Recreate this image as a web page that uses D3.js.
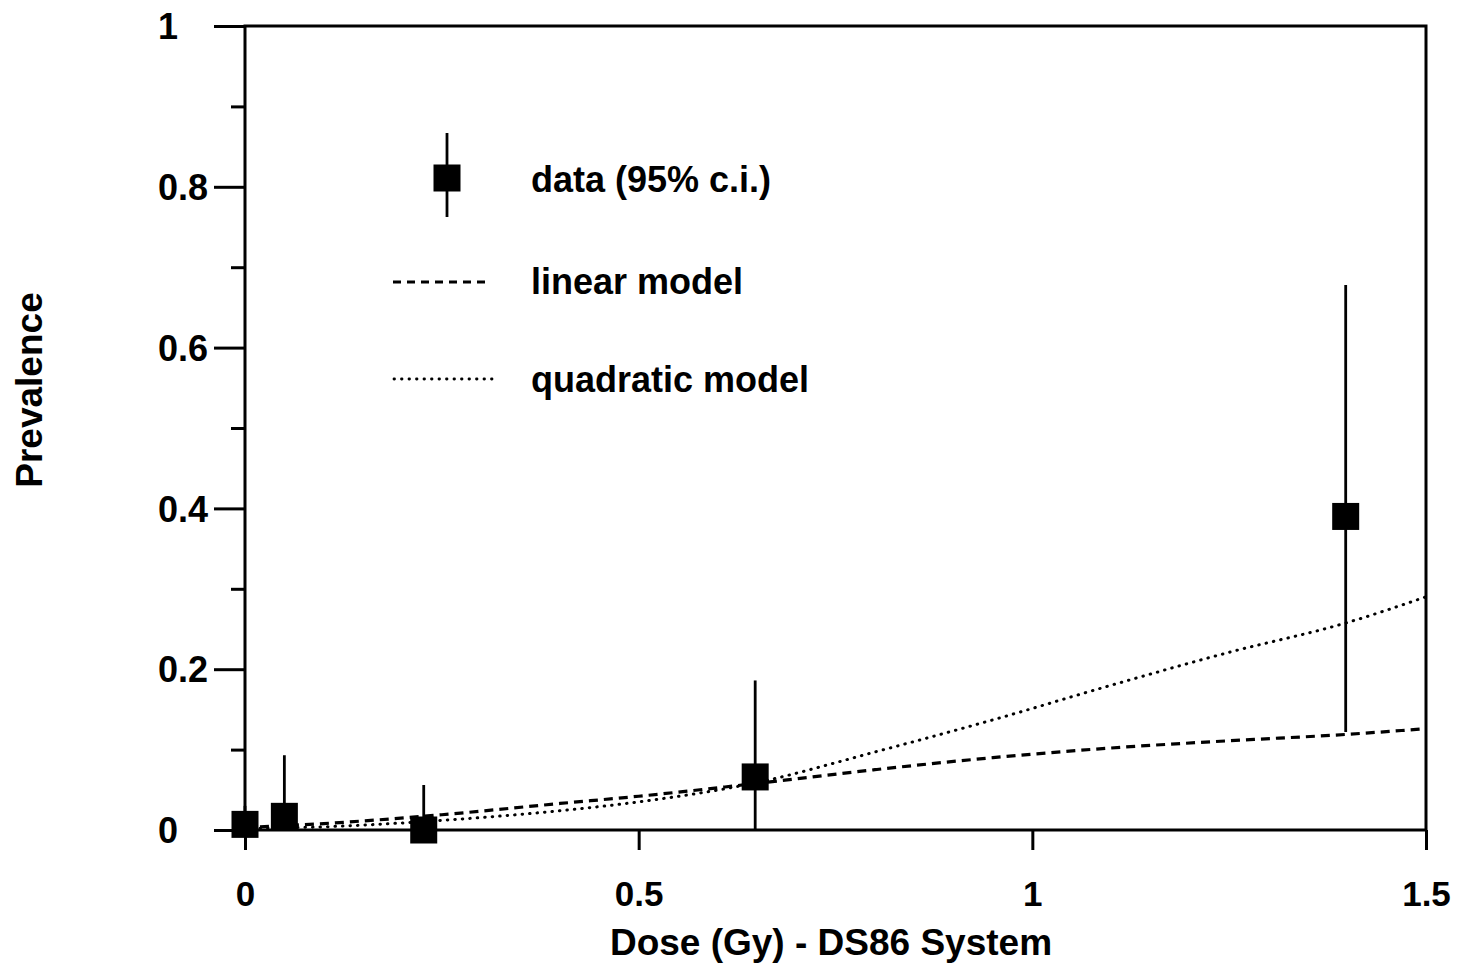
<!DOCTYPE html>
<html>
<head>
  <meta charset="utf-8">
  <title>Prevalence vs dose</title>
  <script src="https://cdn.jsdelivr.net/npm/d3@7"></script>
  <style>
    body { margin: 0; background: #fff; }
    text { font-family: "Liberation Sans", Arial, Helvetica, sans-serif; font-weight: bold; fill: #000; }
  </style>
</head>
<body>
  <svg id="chart" width="1459" height="965"></svg>

  <script>
    // observed prevalence with 95% c.i.
    var dose = [0, 0.05, 0.227, 0.648, 1.398];
    var prevalence = [0.007, 0.017, 0.0, 0.066, 0.39];
    var ciLow = [0, 0, 0, 0, 0.122];
    var ciHigh = [0.03, 0.093, 0.056, 0.186, 0.678];

    // fitted curves
    var curveDose = [0, 0.1, 0.25, 0.4, 0.5, 0.65, 0.8, 0.95, 1.1, 1.25, 1.4, 1.5];
    var linearFit = [0.003, 0.008, 0.019, 0.033, 0.042, 0.058, 0.075, 0.09, 0.102, 0.111, 0.119, 0.126];
    var quadraticFit = [0.002, 0.004, 0.012, 0.024, 0.035, 0.059, 0.097, 0.137, 0.18, 0.221, 0.258, 0.29];

    var xTicks = [0, 0.5, 1, 1.5];
    var yMajor = [0, 0.2, 0.4, 0.6, 0.8, 1];
    var yMinor = [0.1, 0.3, 0.5, 0.7, 0.9];

    // plot box (don't call it "top", that's window.top)
    var svg = d3.select('#chart'),
      plotL = 245, plotR = 1426, plotT = 26, plotB = 830;

    var x = d3.scaleLinear().domain([0, 1.5]).range([plotL, plotR]);
    var y = d3.scaleLinear().domain([0, 1]).range([plotB, plotT]);

    var line = d3.line()
      .x(d => x(d[0]))
      .y(d => y(d[1]))
      .curve(d3.curveMonotoneX);

    // model curves
    svg.append('path')
      .datum(d3.zip(curveDose, linearFit))
      .attr('d', line)
      .attr('fill', 'none')
      .attr('stroke', '#000')
      .attr('stroke-width', 3.2)
      .attr('stroke-dasharray', '9,6');

    svg.append('path')
      .datum(d3.zip(curveDose, quadraticFit))
      .attr('d', line)
      .attr('fill', 'none')
      .attr('stroke', '#000')
      .attr('stroke-width', 3)
      .attr('stroke-linecap', 'round')
      .attr('stroke-dasharray', '0.5,7');

    // data points
    var pts = dose.map((d, i) => ({ x: d, y: prevalence[i], lo: ciLow[i], hi: ciHigh[i] }));
    var sq = 27;

    svg.selectAll('.ci')
      .data(pts)
      .enter()
      .append('line')
      .attr('class', 'ci')
      .attr('x1', d => x(d.x)).attr('x2', d => x(d.x))
      .attr('y1', d => y(d.lo)).attr('y2', d => y(d.hi))
      .attr('stroke', '#000')
      .attr('stroke-width', 2.8);

    svg.selectAll('.pt')
      .data(pts)
      .enter()
      .append('rect')
      .attr('class', 'pt')
      .attr('x', d => x(d.x) - sq / 2)
      .attr('y', d => y(d.y) - sq / 2)
      .attr('width', sq)
      .attr('height', sq)
      .attr('fill', '#000');

    // frame
    svg.append('rect')
      .attr('x', plotL).attr('y', plotT)
      .attr('width', plotR - plotL).attr('height', plotB - plotT)
      .attr('fill', 'none')
      .attr('stroke', '#000')
      .attr('stroke-width', 3);

    // y axis
    var yAxis = svg.append('g')
      .attr('transform', 'translate(' + plotL + ',0)')
      .call(d3.axisLeft(y).tickValues(yMajor).tickSize(31).tickFormat(d3.format('')));
    yAxis.select('.domain').remove();
    yAxis.selectAll('line').attr('stroke-width', 3);
    yAxis.selectAll('text')
      .attr('x', -87)
      .attr('dy', '0.35em')
      .attr('text-anchor', 'start')
      .style('font-size', '36px');

    var yMinorAxis = svg.append('g')
      .attr('transform', 'translate(' + plotL + ',0)')
      .call(d3.axisLeft(y).tickValues(yMinor).tickSize(14).tickFormat(''));
    yMinorAxis.select('.domain').remove();
    yMinorAxis.selectAll('line').attr('stroke-width', 3);

    // x axis
    var xAxis = svg.append('g')
      .attr('transform', 'translate(0,' + plotB + ')')
      .call(d3.axisBottom(x).tickValues(xTicks).tickSize(20).tickFormat(d3.format('')));
    xAxis.select('.domain').remove();
    xAxis.selectAll('line').attr('stroke-width', 3);
    xAxis.selectAll('text')
      .attr('y', 76)
      .attr('dy', 0)
      .style('font-size', '35px');

    // axis titles
    svg.append('text')
      .attr('x', 831)
      .attr('y', 955)
      .attr('text-anchor', 'middle')
      .style('font-size', '37px')
      .text('Dose (Gy) - DS86 System');

    svg.append('text')
      .attr('transform', 'translate(42,390) rotate(-90)')
      .attr('text-anchor', 'middle')
      .style('font-size', '37px')
      .text('Prevalence');

    // legend
    var lg = svg.append('g');
    lg.append('line')
      .attr('x1', 447).attr('x2', 447).attr('y1', 133).attr('y2', 217)
      .attr('stroke', '#000').attr('stroke-width', 2.8);
    lg.append('rect')
      .attr('x', 447 - sq / 2).attr('y', 178 - sq / 2)
      .attr('width', sq).attr('height', sq)
      .attr('fill', '#000');
    lg.append('line')
      .attr('x1', 393).attr('x2', 491).attr('y1', 282).attr('y2', 282)
      .attr('stroke', '#000').attr('stroke-width', 3)
      .attr('stroke-dasharray', '8,6');
    lg.append('line')
      .attr('x1', 394).attr('x2', 492).attr('y1', 379).attr('y2', 379)
      .attr('stroke', '#000').attr('stroke-width', 2.8)
      .attr('stroke-linecap', 'round')
      .attr('stroke-dasharray', '0.5,7');

    lg.append('text').attr('x', 531).attr('y', 192).style('font-size', '36px').text('data (95% c.i.)');
    lg.append('text').attr('x', 531).attr('y', 294).style('font-size', '36px').text('linear model');
    lg.append('text').attr('x', 531).attr('y', 392).style('font-size', '36px').text('quadratic model');
  </script>
</body>
</html>
